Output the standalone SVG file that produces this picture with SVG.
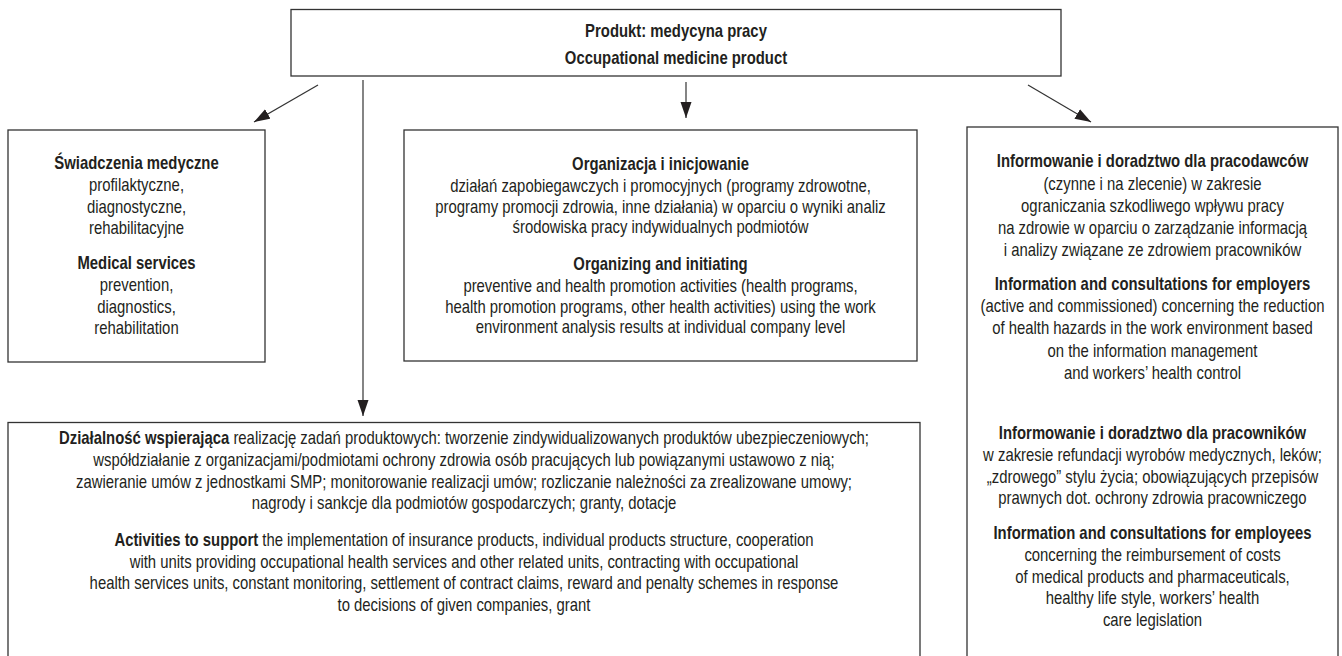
<svg xmlns="http://www.w3.org/2000/svg" width="1342" height="656" viewBox="0 0 1342 656">
<defs>
<style>
.box{fill:#fff;stroke:#333;stroke-width:1.3}
text{font-family:"Liberation Sans",Arial,sans-serif;font-size:17.5px;fill:#231f20;text-anchor:middle}
.b{font-weight:bold}
.conn line{stroke:#333;stroke-width:1.2}
</style>
<marker id="ah" markerUnits="userSpaceOnUse" markerWidth="18" markerHeight="12" refX="16" refY="5.5" orient="auto">
<path d="M0,0 L16,5.5 L0,11 Z" fill="#231f20"/>
</marker>
</defs>
<rect width="1342" height="656" fill="#fff"/>
<g id="top">
<rect class="box" x="291" y="9.5" width="770" height="66.5"/>
<g transform="translate(676,0) scale(0.85,1)">
<text class="b" x="0" y="37.5">Produkt: medycyna pracy</text>
<text class="b" x="0" y="64">Occupational medicine product</text>
</g>
</g>
<g id="medical">
<rect class="box" x="8" y="130" width="257" height="232"/>
<g transform="translate(136.5,0) scale(0.85,1)">
<text class="b" x="0" y="169.5">Świadczenia medyczne</text>
<text x="0" y="191.5">profilaktyczne,</text>
<text x="0" y="213">diagnostyczne,</text>
<text x="0" y="234.5">rehabilitacyjne</text>
<text class="b" x="0" y="269.5">Medical services</text>
<text x="0" y="291.5">prevention,</text>
<text x="0" y="313">diagnostics,</text>
<text x="0" y="334.5">rehabilitation</text>
</g>
</g>
<g id="organizing">
<rect class="box" x="404" y="130" width="513" height="231"/>
<g transform="translate(660.5,0) scale(0.85,1)">
<text class="b" x="0" y="170.5">Organizacja i inicjowanie</text>
<text x="0" y="192.5">działań zapobiegawczych i promocyjnych (programy zdrowotne,</text>
<text x="0" y="213">programy promocji zdrowia, inne działania) w oparciu o wyniki analiz</text>
<text x="0" y="233.5">środowiska pracy indywidualnych podmiotów</text>
<text class="b" x="0" y="270">Organizing and initiating</text>
<text x="0" y="292.5">preventive and health promotion activities (health programs,</text>
<text x="0" y="313">health promotion programs, other health activities) using the work</text>
<text x="0" y="333.5">environment analysis results at individual company level</text>
</g>
</g>
<g id="information">
<rect class="box" x="967" y="127" width="371" height="540"/>
<g transform="translate(1152.5,0) scale(0.85,1)">
<text class="b" x="0" y="167.5">Informowanie i doradztwo dla pracodawców</text>
<text x="0" y="190">(czynne i na zlecenie) w zakresie</text>
<text x="0" y="212.5">ograniczania szkodliwego wpływu pracy</text>
<text x="0" y="234.5">na zdrowie w oparciu o zarządzanie informacją</text>
<text x="0" y="256.5">i analizy związane ze zdrowiem pracowników</text>
<text class="b" x="0" y="290.5">Information and consultations for employers</text>
<text x="0" y="312.5">(active and commissioned) concerning the reduction</text>
<text x="0" y="334.5">of health hazards in the work environment based</text>
<text x="0" y="357">on the information management</text>
<text x="0" y="379.5">and workers’ health control</text>
<text class="b" x="0" y="439.5">Informowanie i doradztwo dla pracowników</text>
<text x="0" y="461.5">w zakresie refundacji wyrobów medycznych, leków;</text>
<text x="0" y="483">„zdrowego” stylu życia; obowiązujących przepisów</text>
<text x="0" y="504.5">prawnych dot. ochrony zdrowia pracowniczego</text>
<text class="b" x="0" y="539.5">Information and consultations for employees</text>
<text x="0" y="561.5">concerning the reimbursement of costs</text>
<text x="0" y="583">of medical products and pharmaceuticals,</text>
<text x="0" y="604.5">healthy life style, workers’ health</text>
<text x="0" y="626">care legislation</text>
</g>
</g>
<g id="support">
<rect class="box" x="8" y="422.5" width="912" height="245"/>
<g transform="translate(464,0) scale(0.85,1)">
<text x="0" y="444.5"><tspan class="b">Działalność wspierająca</tspan> realizację zadań produktowych: tworzenie zindywidualizowanych produktów ubezpieczeniowych;</text>
<text x="0" y="466.5">współdziałanie z organizacjami/podmiotami ochrony zdrowia osób pracujących lub powiązanymi ustawowo z nią;</text>
<text x="0" y="488">zawieranie umów z jednostkami SMP; monitorowanie realizacji umów; rozliczanie należności za zrealizowane umowy;</text>
<text x="0" y="509.5">nagrody i sankcje dla podmiotów gospodarczych; granty, dotacje</text>
<text x="0" y="546.5"><tspan class="b">Activities to support</tspan> the implementation of insurance products, individual products structure, cooperation</text>
<text x="0" y="568">with units providing occupational health services and other related units, contracting with occupational</text>
<text x="0" y="589.5">health services units, constant monitoring, settlement of contract claims, reward and penalty schemes in response</text>
<text x="0" y="611">to decisions of given companies, grant</text>
</g>
</g>
<g id="connectors" class="conn">
<line x1="318" y1="85" x2="254" y2="122" marker-end="url(#ah)"/>
<line x1="363" y1="80" x2="363" y2="416" marker-end="url(#ah)"/>
<line x1="686" y1="82" x2="686" y2="118" marker-end="url(#ah)"/>
<line x1="1028" y1="85" x2="1091" y2="122" marker-end="url(#ah)"/>
</g>
</svg>
